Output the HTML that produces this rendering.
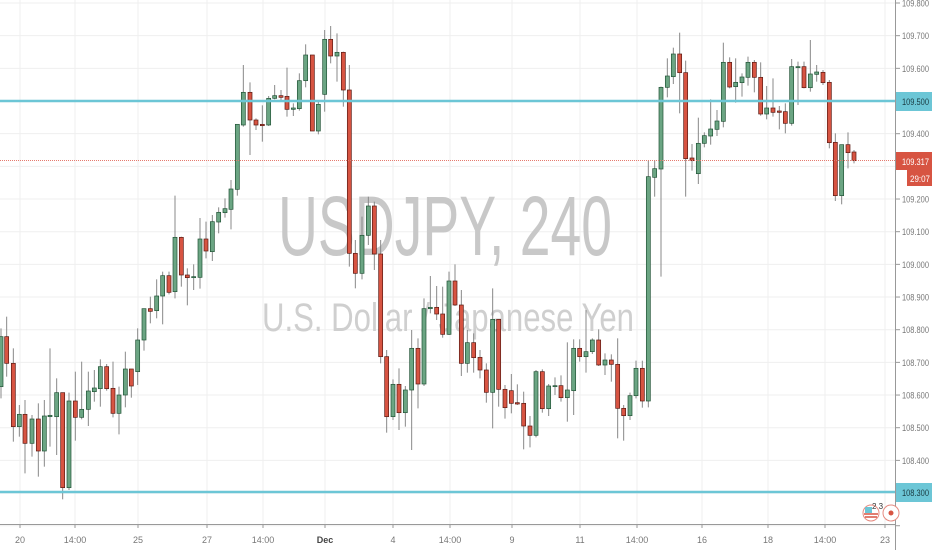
<!DOCTYPE html>
<html><head><meta charset="utf-8"><style>
html,body{margin:0;padding:0;background:#fff;}
svg{display:block;font-family:"Liberation Sans",sans-serif;}
</style></head><body>
<svg id="s" width="932" height="550" viewBox="0 0 932 550" xmlns="http://www.w3.org/2000/svg">
<rect width="932" height="550" fill="#fff"/>
<g id="grid"></g>
<text x="278" y="255" font-size="84" fill="#c8c8c8" textLength="334" lengthAdjust="spacingAndGlyphs">USDJPY, 240</text>
<text x="262" y="331" font-size="40" fill="#cfcfcf" textLength="372" lengthAdjust="spacingAndGlyphs">U.S. Dollar / Japanese Yen</text>
<g id="c"></g>
<line x1="0" y1="101" x2="896" y2="101" stroke="#6cc6d6" stroke-width="2.5"/>
<line x1="0" y1="492" x2="896" y2="492" stroke="#6cc6d6" stroke-width="2.5"/>
<line x1="0" y1="160.5" x2="896" y2="160.5" stroke="#e57a6e" stroke-width="1" stroke-dasharray="1,1"/>
<rect x="896" y="0" width="36" height="550" fill="#fff"/>
<line x1="895.5" y1="0" x2="895.5" y2="550" stroke="#999" stroke-width="1"/>
<line x1="0" y1="524.5" x2="896" y2="524.5" stroke="#999" stroke-width="1"/>
<g id="ax" font-size="9" fill="#777"></g>
<rect x="896" y="92" width="36" height="19" fill="#6cc6d6"/>
<text x="902" y="105" font-size="9" fill="#1a3a40" textLength="27" lengthAdjust="spacingAndGlyphs">109.500</text>
<rect x="896" y="483" width="36" height="19" fill="#6cc6d6"/>
<text x="902" y="496" font-size="9" fill="#1a3a40" textLength="27" lengthAdjust="spacingAndGlyphs">108.300</text>
<rect x="896" y="152" width="36" height="18" fill="#d75442"/>
<text x="902" y="165" font-size="9" fill="#fff" textLength="27" lengthAdjust="spacingAndGlyphs">109.317</text>
<rect x="907" y="170" width="25" height="16" fill="#d75442"/>
<text x="910" y="182" font-size="9" fill="#fff" textLength="20" lengthAdjust="spacingAndGlyphs">29:07</text>
<circle cx="871" cy="513" r="8" fill="#fff" stroke="#e58a80" stroke-width="1"/>
<rect x="865" y="507" width="7" height="6" fill="#6cc6d6"/>
<path d="M864 514 h14 M865 517 h12" stroke="#d75442" stroke-width="1.5"/>
<text x="872" y="509" font-size="8" fill="#333">2 3</text>
<circle cx="891" cy="513" r="8" fill="#fff" stroke="#e58a80" stroke-width="1"/>
<circle cx="891" cy="513" r="2.5" fill="#d75442"/>
</svg>
<script>
var NS="http://www.w3.org/2000/svg";
function el(p,t,a,txt){var e=document.createElementNS(NS,t);for(var k in a)e.setAttribute(k,a[k]);if(txt!=null)e.textContent=txt;p.appendChild(e);return e;}
var grid=document.getElementById('grid'),ax=document.getElementById('ax'),cg=document.getElementById('c');
var prices=["109.800","109.700","109.600","109.500","109.400","109.300","109.200","109.100","109.000","108.900","108.800","108.700","108.600","108.500","108.400","108.300","108.200"];
for(var i=0;i<prices.length;i++){var y=3+i*32.67;
 el(grid,'line',{x1:0,y1:y,x2:896,y2:y,stroke:'#efefef','stroke-width':1});
 el(ax,'line',{x1:896,y1:y,x2:900,y2:y,stroke:'#999'});
 if(prices[i]!="109.500"&&prices[i]!="108.300"&&y<520) el(ax,'text',{x:902,y:y+3.5,textLength:27,lengthAdjust:'spacingAndGlyphs'},prices[i]);}
var tl=[[20,"20"],[75,"14:00"],[138,"25"],[207,"27"],[263,"14:00"],[325,"Dec"],[393,"4"],[450,"14:00"],[512,"9"],[580,"11"],[637,"14:00"],[702,"16"],[768,"18"],[825,"14:00"],[885,"23"]];
tl.forEach(function(t){el(grid,'line',{x1:t[0],y1:0,x2:t[0],y2:524,stroke:'#efefef','stroke-width':1});
 el(ax,'line',{x1:t[0],y1:524,x2:t[0],y2:528,stroke:'#999'});
 var a={x:t[0],y:543,'text-anchor':'middle'};if(t[1]=="Dec"){a['font-weight']='bold';a.fill='#444';}
 el(ax,'text',a,t[1]);});
var G=[[0,[[3,950,1100,925,1135,1],[20,950,1030,890,1070,0],[40,1030,1220,985,1265,0],[58,1183,1220,1155,1250,1],[75,1183,1270,1140,1360,0],[96,1197,1270,1185,1310,1],[115,1197,1293,1150,1370,0],[133,1188,1293,1140,1340,1],[150,1186,1190,985,1280,1],[170,1118,1190,1075,1305,1],[188,1118,1403,1118,1438,0],[207,1143,1403,1118,1410,1],[226,1143,1192,1055,1262,0],[245,1168,1192,1025,1198,1],[265,1113,1168,1055,1218,1],[283,1104,1115,1050,1145,1],[301,1040,1106,1018,1160,1],[320,1040,1106,1032,1112,0],[339,1105,1180,1025,1192,0],[357,1125,1180,1100,1243,1],[376,1047,1125,995,1162,1],[394,1047,1098,1047,1133,0],[413,960,1055,925,1095,1],[432,866,960,866,992,1],[451,866,874,830,910,0],[470,828,872,778,895,1],[488,767,828,755,913,1],[507,767,817,755,823,0],[525,652,815,527,835,1],[544,652,765,650,800,0],[562,765,773,745,856,0],[581,770,773,733,810,1],[600,657,772,594,806,1],[618,657,693,605,715,0],[637,605,695,585,723,1],[656,577,606,562,640,1],[675,566,578,535,593,1]]],
[220,[[33,507,568,480,628,1],[52,313,508,313,527,1],[70,217,315,135,320,1],[90,217,300,187,405,0],[108,300,315,295,330,0],[127,313,317,256,365,0],[146,235,315,228,318,1],[164,227,235,195,238,1],[183,227,232,210,245,0],[201,229,268,143,290,0],[220,264,268,250,288,1],[238,182,266,160,272,1],[257,105,182,73,202,1],[277,105,333,105,333,0],[295,253,333,240,343,1],[314,58,223,30,275,1],[332,58,108,18,130,0],[351,97,108,40,185,1],[370,97,210,95,260,0],[388,210,700,135,740,0],[406,700,760,660,805,0],[426,646,760,590,778,1],[445,558,646,530,675,1],[463,558,702,545,750,0],[482,702,1010,660,1030,0],[500,1010,1190,990,1238,0],[519,1093,1190,1078,1200,1],[537,1093,1178,1045,1230,0],[556,1110,1178,1098,1220,1],[575,985,1110,930,1290,1],[594,985,1092,955,1165,0],[612,866,1092,835,1098,1],[631,862,866,768,880,1],[650,862,882,798,900,0],[668,882,943,800,953,0]]],
[440,[[27,783,943,755,945,1],[45,783,855,733,858,0],[64,855,1030,810,1068,0],[82,968,1030,930,1058,1],[101,968,1013,940,1058,0],[120,1012,1050,990,1075,0],[139,1050,1117,1030,1148,0],[158,898,1117,805,1225,1],[176,898,1108,898,1160,0],[195,1108,1163,1095,1196,0],[214,1112,1150,1062,1180,0],[232,1148,1152,1093,1155,0],[251,1150,1218,1115,1288,0],[270,1218,1246,1188,1282,0],[288,1055,1246,1050,1252,1],[307,1055,1166,1048,1178,0],[326,1098,1166,1092,1188,1],[345,1097,1100,1072,1125,1],[363,1097,1133,1066,1145,0],[382,1110,1133,967,1205,1],[401,985,1112,958,1185,1],[419,985,1010,958,1025,0],[438,995,1010,870,1058,1],[457,960,995,955,1002,1],[476,960,1035,928,1038,0],[495,1020,1035,1000,1065,1],[514,1020,1033,1003,1085,0],[533,1033,1165,955,1255,0],[551,1165,1187,1155,1262,0],[570,1127,1187,1118,1200,1],[588,1045,1127,1022,1135,1],[607,1045,1143,1022,1163,0],[625,470,1143,422,1162,1],[644,446,472,420,530,1],[663,202,447,200,770,1]]],
[660,[[22,168,202,115,232,1],[40,102,170,83,192,1],[59,102,158,38,280,0],[77,158,416,122,530,0],[96,414,422,372,452,0],[115,370,461,293,492,1],[133,347,370,337,382,1],[152,327,348,238,374,1],[171,303,328,270,348,1],[190,127,304,68,322,1],[209,127,201,112,205,0],[227,187,200,115,248,1],[246,171,188,160,230,1],[264,127,172,110,197,1],[283,127,172,120,217,0],[302,172,282,127,287,0],[320,264,282,198,298,1],[339,264,277,175,290,0],[358,273,277,258,328,0],[376,275,310,250,340,0],[395,140,310,117,317,1],[414,140,143,125,255,1],[432,140,203,125,205,0],[451,162,203,60,215,1],[470,156,163,135,185,1],[489,157,188,150,195,0],[508,187,368,180,385,0],[526,367,527,340,543,0],[545,374,527,374,553,1],[564,374,398,337,445,0],[582,396,422,390,430,0]]]];
G.forEach(function(g){var x0=g[0];g[1].forEach(function(c){
 var x=x0+c[0]/3,b1=20+c[1]/3,b2=20+c[2]/3,w1=20+c[3]/3,w2=20+c[4]/3,up=c[5];
 el(cg,'line',{x1:x,y1:w1,x2:x,y2:w2,stroke:'#888','stroke-width':1});
 var h=Math.max(b2-b1,1);
 el(cg,'rect',{x:x-2,y:b1,width:4,height:h,fill:up?'#6ba583':'#d75442',stroke:up?'#225437':'#5b1a13','stroke-width':0.7});
});});
</script>
</body></html>
